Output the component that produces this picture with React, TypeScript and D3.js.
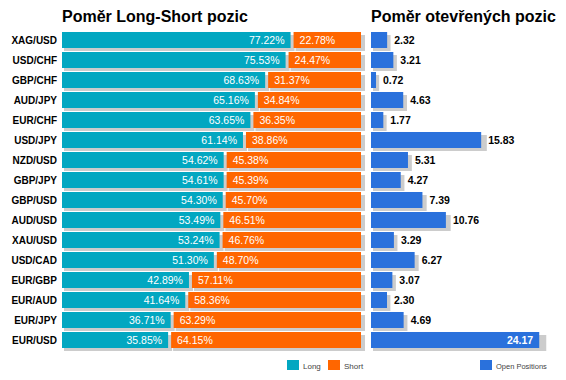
import React from "react";
import * as d3 from "d3";

const categories = ["XAG/USD","USD/CHF","GBP/CHF","AUD/JPY","EUR/CHF","USD/JPY","NZD/USD","GBP/JPY","GBP/USD","AUD/USD","XAU/USD","USD/CAD","EUR/GBP","EUR/AUD","EUR/JPY","EUR/USD"];
const longValues = [77.22,75.53,68.63,65.16,63.65,61.14,54.62,54.61,54.30,53.49,53.24,51.30,42.89,41.64,36.71,35.85];
const shortValues = [22.78,24.47,31.37,34.84,36.35,38.86,45.38,45.39,45.70,46.51,46.76,48.70,57.11,58.36,63.29,64.15];
const openPositions = [2.32,3.21,0.72,4.63,1.77,15.83,5.31,4.27,7.39,10.76,3.29,6.27,3.07,2.30,4.69,24.17];

const titleLeft = "Poměr Long-Short pozic";
const titleRight = "Poměr otevřených pozic";
const legendLeft = ["Long", "Short"];
const legendRight = ["Open Positions"];

const W = 566, H = 380;
const C_LONG = "#02a7c1";
const C_SHORT = "#ff6600";
const C_OPEN = "#2a71dc";
const C_SHADOW = "#cccccc";
const FONT = "'Liberation Sans', Arial, sans-serif";

export default function App() {
  const y = d3.scaleBand<string>().domain(categories).range([30, 350]).paddingInner(0.2).paddingOuter(0.1);
  const xl = d3.scaleLinear().domain([0, 100]).range([62, 358]);
  const xr = d3.scaleLinear().domain([0, 25]).range([371, 545]);
  const bh = y.bandwidth();
  const gap = 3;

  return (
    <svg width={W} height={H} style={{ position: "absolute", left: 0, top: 0, background: "#fff" }} fontFamily={FONT}>
      <text x={62} y={22} fontSize={16} fontWeight="bold" fill="#000">{titleLeft}</text>
      <text x={371} y={22} fontSize={16} fontWeight="bold" fill="#000">{titleRight}</text>

      {categories.map((c, i) => {
        const yy = y(c)!;
        const lEnd = xl(longValues[i]);
        const sStart = lEnd + gap;
        const sEnd = xl(100) + gap;
        const oEnd = xr(openPositions[i]);
        const inside = openPositions[i] > 20;
        return (
          <g key={c}>
            <text x={57} y={yy + bh / 2 + 3.5} fontSize={10} fontWeight="bold" textAnchor="end" fill="#000">{c}</text>
            {/* shadows */}
            <rect x={xl(0) + 2} y={yy + 3} width={lEnd - xl(0) + 2} height={bh} fill={C_SHADOW} />
            <rect x={sStart + 2} y={yy + 3} width={sEnd - sStart + 2} height={bh} fill={C_SHADOW} />
            <rect x={xr(0) + 2} y={yy + 3} width={(oEnd - xr(0)) * 1.024 + 1} height={bh} fill={C_SHADOW} />
            {/* bars */}
            <rect x={xl(0)} y={yy} width={lEnd - xl(0)} height={bh} fill={C_LONG} />
            <rect x={sStart} y={yy} width={sEnd - sStart} height={bh} fill={C_SHORT} />
            <rect x={xr(0)} y={yy} width={oEnd - xr(0)} height={bh} fill={C_OPEN} />
            <text x={lEnd - 6} y={yy + bh / 2 + 4} fontSize={10.5} textAnchor="end" fill="#fff">{longValues[i].toFixed(2)}%</text>
            <text x={sStart + 6} y={yy + bh / 2 + 4} fontSize={10.5} textAnchor="start" fill="#fff">{shortValues[i].toFixed(2)}%</text>
            {inside ? (
              <text x={oEnd - 6} y={yy + bh / 2 + 4} fontSize={10.5} fontWeight="bold" textAnchor="end" fill="#fff">{openPositions[i].toFixed(2)}</text>
            ) : (
              <text x={oEnd + 7} y={yy + bh / 2 + 4} fontSize={10.5} fontWeight="bold" textAnchor="start" fill="#000">{openPositions[i].toFixed(2)}</text>
            )}
          </g>
        );
      })}

      {/* legends */}
      <rect x={287} y={360} width={12} height={10} fill={C_LONG} />
      <text x={303} y={368.5} fontSize={8} fill="#444">{legendLeft[0]}</text>
      <rect x={328} y={360} width={12} height={10} fill={C_SHORT} />
      <text x={344} y={368.5} fontSize={8} fill="#444">{legendLeft[1]}</text>
      <rect x={480} y={360} width={12} height={10} fill={C_OPEN} />
      <text x={496} y={368.5} fontSize={7.5} fill="#444">{legendRight[0]}</text>
    </svg>
  );
}
